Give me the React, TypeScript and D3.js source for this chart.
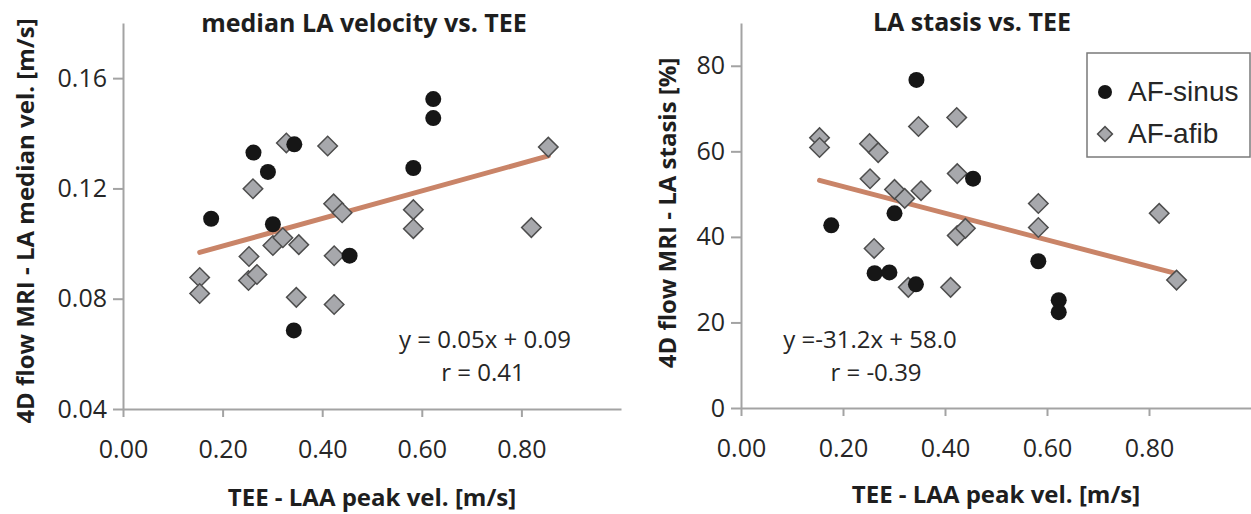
import React, { useRef, useEffect } from 'react';
import * as d3 from 'd3';

// TEE - LAA peak velocity [m/s], same patients in both panels
const sinusX = [0.177, 0.262, 0.291, 0.301, 0.344, 0.343, 0.455, 0.583, 0.623, 0.623];
const afibX = [0.154, 0.154, 0.252, 0.253, 0.261, 0.269, 0.301, 0.321, 0.328, 0.348, 0.353, 0.411, 0.423, 0.424, 0.424, 0.44, 0.583, 0.583, 0.82, 0.854];

// median LA velocity [m/s]
const velSinus = [0.109, 0.133, 0.126, 0.107, 0.136, 0.0685, 0.0956, 0.1274, 0.1524, 0.1455];
const velAfib = [0.0877, 0.0819, 0.0866, 0.0953, 0.1199, 0.0888, 0.0993, 0.1021, 0.1365, 0.0805, 0.0996, 0.1354, 0.1144, 0.0956, 0.0779, 0.1112, 0.1123, 0.1054, 0.1058, 0.135];

// LA stasis [%]
const stasisSinus = [42.7, 31.5, 31.7, 45.5, 76.7, 28.9, 53.6, 34.3, 25.2, 22.4];
const stasisAfib = [63.2, 60.9, 61.8, 53.6, 37.3, 59.7, 51.1, 49.0, 28.2, 65.8, 50.8, 28.2, 67.9, 54.8, 40.3, 42.0, 47.8, 42.2, 45.5, 29.9];

// regression line end points
const trendX = [0.154, 0.854];
const velTrend = [0.0968, 0.1318];
const stasisTrend = [53.2, 31.4];

const xTicks = [0, 0.2, 0.4, 0.6, 0.8];
const velTicks = [0.04, 0.08, 0.12, 0.16];
const stasisTicks = [0, 20, 40, 60, 80];

const legendLabels = ['AF-sinus', 'AF-afib'];

const AXIS = '#a3a3a3';
const TEXT = '#262626';
const TREND = '#c98468';
const DIAMOND = '#a7a8ac';

const App = () => {
  const ref = useRef(null);

  useEffect(() => {
    const svg = d3.select(ref.current);
    svg.selectAll('*').remove();

    const diamond = d3.symbol().type(d3.symbolSquare).size(190);

    const panels = [
      {
        xr: [123, 621], yr: [409, 23], ydom: [0.04, 0.18], yTicks: velTicks, yFmt: d3.format('.2f'),
        sinus: velSinus, afib: velAfib, trend: velTrend,
        title: 'median LA velocity vs. TEE', titleX: 364, titleY: 32,
        yLabel: '4D flow MRI - LA median vel. [m/s]', yLabelX: 26, yLabelY: 221,
        xLabelX: 372, xLabelY: 506,
        eq: ['y = 0.05x + 0.09', 'r = 0.41'], eqX: [485, 483], eqY: [348, 381]
      },
      {
        xr: [741, 1251], yr: [408, 23], ydom: [0, 90], yTicks: stasisTicks, yFmt: d3.format('d'),
        sinus: stasisSinus, afib: stasisAfib, trend: stasisTrend,
        title: 'LA stasis vs. TEE', titleX: 972, titleY: 31,
        yLabel: '4D flow MRI - LA stasis [%]', yLabelX: 668, yLabelY: 213,
        xLabelX: 996, xLabelY: 503,
        eq: ['y =-31.2x + 58.0', 'r = -0.39'], eqX: [870, 876], eqY: [348, 381]
      }
    ];

    panels.forEach(p => {
      const x = d3.scaleLinear().domain([0, 1]).range(p.xr);
      const y = d3.scaleLinear().domain(p.ydom).range(p.yr);

      // X axis
      const gx = svg.append('g')
        .attr('transform', `translate(0,${p.yr[0]})`)
        .call(d3.axisBottom(x).tickValues(xTicks).tickFormat(d3.format('.2f')).tickSize(8).tickSizeOuter(0).tickPadding(23));
      // Y axis
      const gy = svg.append('g')
        .attr('transform', `translate(${p.xr[0]},0)`)
        .call(d3.axisLeft(y).tickValues(p.yTicks).tickFormat(p.yFmt).tickSize(10).tickSizeOuter(0).tickPadding(6));

      [gx, gy].forEach(g => {
        g.select('.domain').attr('stroke', AXIS).attr('stroke-width', 2);
        g.selectAll('.tick line').attr('stroke', AXIS).attr('stroke-width', 2);
        g.selectAll('.tick text')
          .attr('fill', TEXT)
          .style('font-family', '"Open Sans", sans-serif')
          .style('font-size', '25px');
      });

      // trend line
      svg.append('path')
        .datum(trendX.map((v, i) => [v, p.trend[i]]))
        .attr('d', d3.line().x(d => x(d[0])).y(d => y(d[1])))
        .attr('stroke', TREND)
        .attr('stroke-width', 5)
        .attr('stroke-linecap', 'round')
        .attr('fill', 'none');

      // AF-afib diamonds
      svg.selectAll(null)
        .data(afibX.map((v, i) => [v, p.afib[i]]))
        .enter()
        .append('path')
        .attr('d', diamond)
        .attr('transform', d => `translate(${x(d[0])},${y(d[1])}) rotate(45)`)
        .attr('fill', DIAMOND)
        .attr('stroke', '#4d4d4d')
        .attr('stroke-width', 1.5);

      // AF-sinus circles
      svg.selectAll(null)
        .data(sinusX.map((v, i) => [v, p.sinus[i]]))
        .enter()
        .append('circle')
        .attr('cx', d => x(d[0]))
        .attr('cy', d => y(d[1]))
        .attr('r', 8)
        .attr('fill', '#161616');

      const bold = (sel, size) => sel
        .style('font-family', '"Open Sans", sans-serif')
        .style('font-weight', 700)
        .style('font-size', size);

      bold(svg.append('text')
        .attr('x', p.titleX).attr('y', p.titleY)
        .attr('text-anchor', 'middle').attr('fill', '#1e1e1e')
        .text(p.title), '25px');

      bold(svg.append('text')
        .attr('x', p.xLabelX).attr('y', p.xLabelY)
        .attr('text-anchor', 'middle').attr('fill', '#1e1e1e')
        .text('TEE - LAA peak vel. [m/s]'), '24px');

      bold(svg.append('text')
        .attr('transform', `translate(${p.yLabelX},${p.yLabelY}) rotate(-90)`)
        .attr('text-anchor', 'middle').attr('dy', '0.35em').attr('fill', '#1e1e1e')
        .text(p.yLabel), '24px');

      p.eq.forEach((s, i) => {
        svg.append('text')
          .attr('x', p.eqX[i]).attr('y', p.eqY[i])
          .attr('text-anchor', 'middle').attr('fill', TEXT)
          .style('font-family', '"Open Sans", sans-serif')
          .style('font-size', '24px')
          .text(s);
      });
    });

    // Legend
    const lg = svg.append('g');
    lg.append('rect')
      .attr('x', 1087).attr('y', 53).attr('width', 163).attr('height', 104)
      .attr('fill', 'white').attr('stroke', '#7a7a7a').attr('stroke-width', 1.5);
    lg.append('circle').attr('cx', 1105).attr('cy', 92).attr('r', 7).attr('fill', '#161616');
    lg.append('path')
      .attr('d', d3.symbol().type(d3.symbolSquare).size(110))
      .attr('transform', 'translate(1105,134) rotate(45)')
      .attr('fill', DIAMOND).attr('stroke', '#4d4d4d').attr('stroke-width', 1.5);
    legendLabels.forEach((s, i) => {
      lg.append('text')
        .attr('x', 1128).attr('y', 101 + i * 42)
        .attr('fill', TEXT)
        .style('font-family', '"Liberation Sans", Arial, sans-serif')
        .style('font-size', '28px')
        .text(s);
    });
  }, []);

  return (
    <svg ref={ref} width={1251} height={514}
      style={{ position: 'absolute', left: 0, top: 0, background: 'white' }} />
  );
};

export default App;
